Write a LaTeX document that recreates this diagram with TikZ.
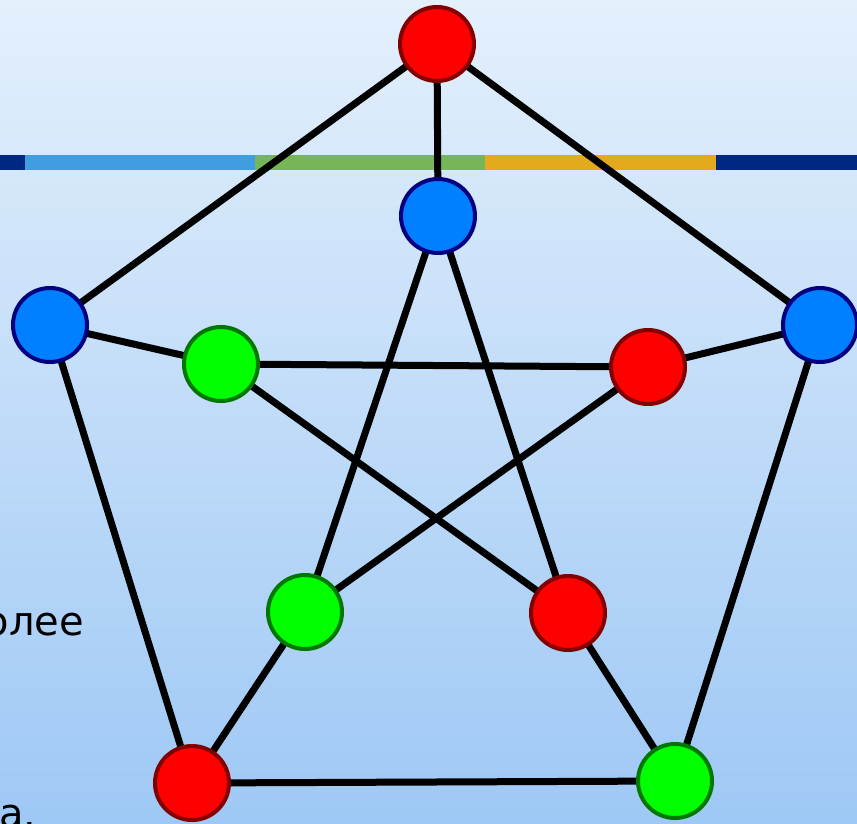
\documentclass[tikz,border=0pt]{standalone}
\usepackage{fontspec}
\newfontfamily\txtfont{DejaVu Sans}
\definecolor{bgtop}{RGB}{228,240,252}
\definecolor{bgbot}{RGB}{158,200,245}
\definecolor{navy}{RGB}{0,40,130}
\definecolor{lblue}{RGB}{64,158,224}
\definecolor{sgreen}{RGB}{118,182,88}
\definecolor{sorange}{RGB}{228,170,30}
\definecolor{nred}{RGB}{255,0,0}
\definecolor{nredb}{RGB}{130,0,0}
\definecolor{nblue}{RGB}{0,128,255}
\definecolor{nblueb}{RGB}{0,0,128}
\definecolor{ngreen}{RGB}{0,255,0}
\definecolor{ngreenb}{RGB}{0,120,0}
\tikzset{
  vtx/.style={circle, minimum size=74pt, inner sep=0pt, line width=4pt},
  redv/.style={vtx, fill=nred, draw=nredb},
  bluev/.style={vtx, fill=nblue, draw=nblueb},
  greenv/.style={vtx, fill=ngreen, draw=ngreenb},
  edge/.style={line width=7pt, black},
  lbl/.style={font=\txtfont\fontsize{40}{48}\selectfont, inner sep=0pt, text=black}
}
\begin{document}
\begin{tikzpicture}[x=1pt,y=-1pt]
\useasboundingbox (0,0) rectangle (857,823);
\clip (0,0) rectangle (857,823);
\shade[top color=bgtop, bottom color=bgbot] (0,0) rectangle (857,823);
% stripe
\fill[navy] (0,155) rectangle (25,170);
\fill[lblue] (25,155) rectangle (255,170);
\fill[sgreen] (255,155) rectangle (485,170);
\fill[sorange] (485,155) rectangle (716,170);
\fill[navy] (716,155) rectangle (857,170);
% texts
\node[lbl, anchor=base east] (t1) at (84,635) {олее};
\node[lbl, anchor=base west] (t2) at (-1,827) {а.};
% vertex coordinates
\coordinate (A) at (437,44);
\coordinate (B) at (50,325);
\coordinate (C) at (820,325);
\coordinate (D) at (192,783);
\coordinate (E) at (675,781);
\coordinate (a) at (438,216);
\coordinate (b) at (221,364);
\coordinate (c) at (648,367);
\coordinate (d) at (305,612);
\coordinate (e) at (568,613);
% edges
\draw[edge] (A) -- (B);
\draw[edge] (A) -- (C);
\draw[edge] (B) -- (D);
\draw[edge] (C) -- (E);
\draw[edge] (D) -- (E);
\draw[edge] (A) -- (a);
\draw[edge] (B) -- (b);
\draw[edge] (C) -- (c);
\draw[edge] (D) -- (d);
\draw[edge] (E) -- (e);
\draw[edge] (a) -- (d);
\draw[edge] (a) -- (e);
\draw[edge] (b) -- (c);
\draw[edge] (b) -- (e);
\draw[edge] (c) -- (d);
% vertices
\node[redv] (nA) at (A) {};
\node[bluev] (nB) at (B) {};
\node[bluev] (nC) at (C) {};
\node[redv] (nD) at (D) {};
\node[greenv] (nE) at (E) {};
\node[bluev] (na) at (a) {};
\node[greenv] (nb) at (b) {};
\node[redv] (nc) at (c) {};
\node[greenv] (nd) at (d) {};
\node[redv] (ne) at (e) {};
\end{tikzpicture}
\end{document}
